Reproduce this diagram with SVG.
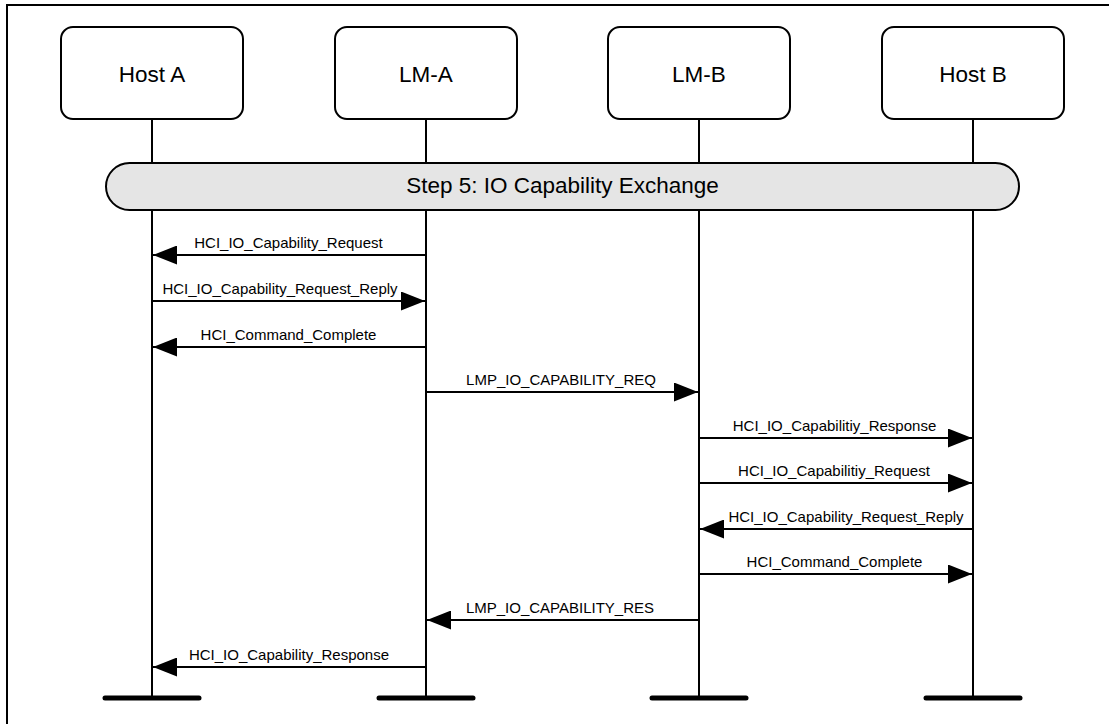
<svg xmlns="http://www.w3.org/2000/svg" width="1109" height="724" viewBox="0 0 1109 724">
<style>
.box{fill:#fff;stroke:#000;stroke-width:2}
.title{font-family:"Liberation Sans",Arial,sans-serif;font-size:22.5px;text-anchor:middle;fill:#000}
.life{stroke:#000;stroke-width:2}
.foot{stroke:#000;stroke-width:5;stroke-linecap:round}
.msg{stroke:#000;stroke-width:2;fill:none;marker-end:url(#ah)}
.lbl{font-family:"Liberation Sans",Arial,sans-serif;font-size:15px;text-anchor:middle;fill:#000}
</style>
<defs>
<marker id="ah" markerUnits="userSpaceOnUse" markerWidth="24" markerHeight="19" refX="24" refY="9.5" orient="auto">
<path d="M0,0 L24,9.5 L0,19 Z" fill="#000"/>
</marker>
</defs>
<rect x="0" y="0" width="1109" height="724" fill="#fff"/>
<rect x="7" y="5" width="1130" height="740" fill="none" stroke="#000" stroke-width="2"/>
<g id="lifelines">
<line class="life" x1="152" y1="119" x2="152" y2="698"/>
<line class="life" x1="426" y1="119" x2="426" y2="698"/>
<line class="life" x1="699" y1="119" x2="699" y2="698"/>
<line class="life" x1="973" y1="119" x2="973" y2="698"/>
<line class="foot" x1="105" y1="698" x2="199" y2="698"/>
<line class="foot" x1="379" y1="698" x2="473" y2="698"/>
<line class="foot" x1="652" y1="698" x2="746" y2="698"/>
<line class="foot" x1="926" y1="698" x2="1020" y2="698"/>
</g>
<g id="hostA"><rect class="box" x="61" y="27" width="182" height="92" rx="12"/><text class="title" x="152" y="82">Host A</text></g>
<g id="lmA"><rect class="box" x="335" y="27" width="182" height="92" rx="12"/><text class="title" x="426" y="82">LM-A</text></g>
<g id="lmB"><rect class="box" x="608" y="27" width="182" height="92" rx="12"/><text class="title" x="699" y="82">LM-B</text></g>
<g id="hostB"><rect class="box" x="882" y="27" width="182" height="92" rx="12"/><text class="title" x="973" y="82">Host B</text></g>
<g id="step5"><rect x="106" y="163" width="913" height="47" rx="23.5" fill="#e5e5e5" stroke="#000" stroke-width="2"/><text class="title" x="562.5" y="193">Step 5: IO Capability Exchange</text></g>
<g id="connectors">
<line class="msg" x1="426" y1="255" x2="153" y2="255"/>
<text class="lbl" x="288.5" y="248">HCI_IO_Capability_Request</text>
<line class="msg" x1="152" y1="301" x2="425" y2="301"/>
<text class="lbl" x="280" y="294">HCI_IO_Capability_Request_Reply</text>
<line class="msg" x1="426" y1="347" x2="153" y2="347"/>
<text class="lbl" x="288.5" y="340">HCI_Command_Complete</text>
<line class="msg" x1="426" y1="392" x2="698" y2="392"/>
<text class="lbl" x="561" y="385">LMP_IO_CAPABILITY_REQ</text>
<line class="msg" x1="699" y1="438" x2="972" y2="438"/>
<text class="lbl" x="834.5" y="431">HCI_IO_Capabilitiy_Response</text>
<line class="msg" x1="699" y1="483" x2="972" y2="483"/>
<text class="lbl" x="834" y="476">HCI_IO_Capabilitiy_Request</text>
<line class="msg" x1="973" y1="529" x2="700" y2="529"/>
<text class="lbl" x="846" y="522">HCI_IO_Capability_Request_Reply</text>
<line class="msg" x1="699" y1="574" x2="972" y2="574"/>
<text class="lbl" x="834.5" y="567">HCI_Command_Complete</text>
<line class="msg" x1="699" y1="620" x2="427" y2="620"/>
<text class="lbl" x="560" y="613">LMP_IO_CAPABILITY_RES</text>
<line class="msg" x1="426" y1="667" x2="153" y2="667"/>
<text class="lbl" x="289" y="660">HCI_IO_Capability_Response</text>
</g>
</svg>
